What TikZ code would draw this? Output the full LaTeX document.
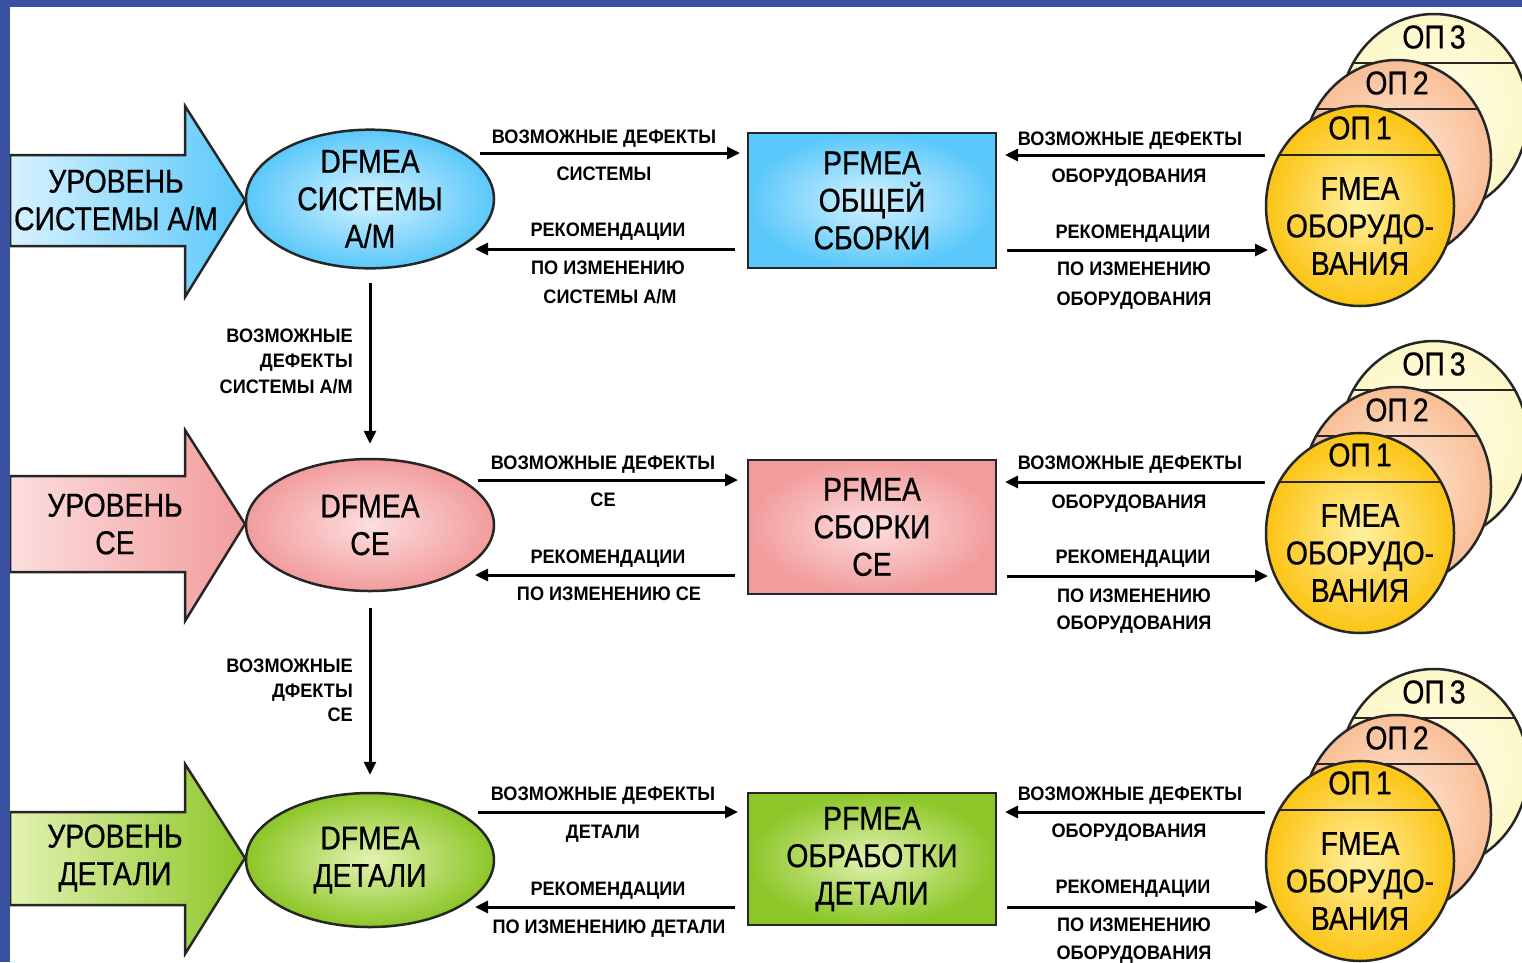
\documentclass[tikz,border=0pt]{standalone}
\usepackage{fontspec}
\setmainfont{Liberation Sans}
\newfontfamily\bigf[FakeStretch=0.86,FakeBold=0.6]{Liberation Sans}
\newfontfamily\lblf[FakeStretch=0.93]{Liberation Sans}
\usetikzlibrary{arrows.meta,shapes.geometric}
\definecolor{navy}{RGB}{58,80,160}
\definecolor{blueS}{RGB}{90,200,250}
\definecolor{blueL}{RGB}{215,242,255}
\definecolor{pinkS}{RGB}{242,156,156}
\definecolor{pinkL}{RGB}{252,222,222}
\definecolor{greenS}{RGB}{140,198,40}
\definecolor{greenL}{RGB}{228,243,178}
\definecolor{goldS}{RGB}{252,196,20}
\definecolor{goldL}{RGB}{255,240,160}
\definecolor{peachS}{RGB}{249,190,150}
\definecolor{peachL}{RGB}{254,234,218}
\definecolor{creamS}{RGB}{253,248,200}
\definecolor{creamL}{RGB}{255,253,235}
\tikzset{
  bigtxt/.style={font=\bigf\fontsize{33}{37.5}\selectfont, align=center},
  lbl/.style={font=\lblf\bfseries\fontsize{19.5}{21}\selectfont, inner sep=0pt, text height=14pt, text depth=0pt},
  flow/.style={line width=3pt, -{Triangle[length=13pt,width=12pt]}},
  outl/.style={draw=black!85, line width=2.5pt},
  lvl/.style={outl, line join=miter},
  dell/.style={ellipse, outl, minimum width=248pt, minimum height=134pt, inner sep=0pt, bigtxt},
  pbox/.style={rectangle, outl, minimum width=248pt, minimum height=134pt, inner sep=0pt, bigtxt},
  opc/.style={ellipse, outl, minimum width=188pt, minimum height=200pt, inner sep=0pt},
  chord/.style={draw=black!85, line width=2.5pt},
}
\newcommand\OPstack[3]{%
  \begin{scope}[shift={(#2,#3)}]
    \node[opc, inner color=creamL, outer color=creamS] (#1c3) at (74,-92) {};
    \draw[chord] (-7,-143) -- (155,-143);
    \node[bigtxt] (#1l3) at (74,-169) {ОП\hspace{5pt}3};
    \node[opc, inner color=peachL, outer color=peachS] (#1c2) at (37,-46) {};
    \draw[chord] (-44,-97) -- (118,-97);
    \node[bigtxt] (#1l2) at (37,-123) {ОП\hspace{5pt}2};
    \node[opc, inner color=goldL, outer color=goldS] (#1c1) at (0,0) {};
    \draw[chord] (-81,-51) -- (81,-51);
    \node[bigtxt] (#1l1) at (0,-78) {ОП\hspace{5pt}1};
    \node[bigtxt] (#1t) at (0,20) {FMEA\\ОБОРУДО-\\ВАНИЯ};
  \end{scope}}
\begin{document}
\begin{tikzpicture}[x=1pt,y=-1pt]
\useasboundingbox (0,0) rectangle (1522,962);
\clip (0,0) rectangle (1522,962);
\fill[white] (0,0) rectangle (1522,962);

% level arrows
\path[lvl, left color=blueL, right color=blueS] (10,155) -- (185,155) -- (185,106) -- (245,200) -- (185,297) -- (185,246) -- (10,246) -- cycle;
\node[bigtxt] (lv1) at (116,200) {УРОВЕНЬ\\СИСТЕМЫ А/М};
\path[lvl, left color=pinkL, right color=pinkS] (10,476) -- (185,476) -- (185,430) -- (245,524) -- (185,621) -- (185,572) -- (10,572) -- cycle;
\node[bigtxt] (lv2) at (115,524) {УРОВЕНЬ\\СЕ};
\path[lvl, left color=greenL, right color=greenS] (10,812) -- (185,812) -- (185,764) -- (245,858) -- (185,954) -- (185,905) -- (10,905) -- cycle;
\node[bigtxt] (lv3) at (115,858) {УРОВЕНЬ\\ДЕТАЛИ};

% DFMEA ellipses
\node[dell, inner color=blueL, outer color=blueS] (e1) at (370,199) {DFMEA\\СИСТЕМЫ\\А/М};
\node[dell, inner color=pinkL, outer color=pinkS, minimum height=132pt] (e2) at (370,525) {DFMEA\\СЕ};
\node[dell, inner color=greenL, outer color=greenS] (e3) at (370,860) {DFMEA\\ДЕТАЛИ};

% PFMEA boxes
\node[pbox, inner color=blueL, outer color=blueS, minimum height=135pt] (r1) at (872,200.5) {PFMEA\\ОБЩЕЙ\\СБОРКИ};
\node[pbox, inner color=pinkL, outer color=pinkS] (r2) at (872,527) {PFMEA\\СБОРКИ\\СЕ};
\node[pbox, inner color=greenL, outer color=greenS, minimum height=132pt] (r3) at (872,859) {PFMEA\\ОБРАБОТКИ\\ДЕТАЛИ};

% equipment FMEA stacks
\OPstack{a}{1360}{206}
\OPstack{b}{1360}{533}
\OPstack{c}{1360}{861}

% vertical arrows
\draw[flow, shorten <=13pt, shorten >=14pt] (e1.south) -- (e2.north);
\draw[flow, shorten <=16pt, shorten >=17pt] (e2.south) -- (e3.north);
\node[lbl, anchor=east] (v1a) at (353,335) {ВОЗМОЖНЫЕ};
\node[lbl, anchor=east] (v1b) at (353,360) {ДЕФЕКТЫ};
\node[lbl, anchor=east] (v1c) at (353,386) {СИСТЕМЫ А/М};
\node[lbl, anchor=east] (v2a) at (353,665) {ВОЗМОЖНЫЕ};
\node[lbl, anchor=east] (v2b) at (353,690) {ДФЕКТЫ};
\node[lbl, anchor=east] (v2c) at (353,714) {СЕ};

% row 1 horizontal arrows
\coordinate (h1a) at (480,153); \coordinate (h1b) at (740,153);
\coordinate (h1c) at (735,249); \coordinate (h1d) at (475,249);
\coordinate (h1e) at (1265,155); \coordinate (h1f) at (1005,155);
\coordinate (h1g) at (1007,250); \coordinate (h1h) at (1268,250);
\draw[flow] (h1a) -- (h1b);
\draw[flow] (h1c) -- (h1d);
\draw[flow] (h1e) -- (h1f);
\draw[flow] (h1g) -- (h1h);
\node[lbl] (t1a) at (604,136) {ВОЗМОЖНЫЕ ДЕФЕКТЫ};
\node[lbl] (t1b) at (604,173) {СИСТЕМЫ};
\node[lbl] (t1c) at (608,229) {РЕКОМЕНДАЦИИ};
\node[lbl] (t1d) at (608,267) {ПО ИЗМЕНЕНИЮ};
\node[lbl] (t1e) at (610,296) {СИСТЕМЫ А/М};
\node[lbl] (t1f) at (1130,138) {ВОЗМОЖНЫЕ ДЕФЕКТЫ};
\node[lbl] (t1g) at (1129,175) {ОБОРУДОВАНИЯ};
\node[lbl] (t1h) at (1133,231) {РЕКОМЕНДАЦИИ};
\node[lbl] (t1i) at (1134,268) {ПО ИЗМЕНЕНИЮ};
\node[lbl] (t1j) at (1134,298) {ОБОРУДОВАНИЯ};

% row 2 horizontal arrows
\coordinate (h2a) at (478,480); \coordinate (h2b) at (738,480);
\coordinate (h2c) at (735,575); \coordinate (h2d) at (475,575);
\coordinate (h2e) at (1265,482); \coordinate (h2f) at (1005,482);
\coordinate (h2g) at (1007,576); \coordinate (h2h) at (1268,576);
\draw[flow] (h2a) -- (h2b);
\draw[flow] (h2c) -- (h2d);
\draw[flow] (h2e) -- (h2f);
\draw[flow] (h2g) -- (h2h);
\node[lbl] (t2a) at (603,462) {ВОЗМОЖНЫЕ ДЕФЕКТЫ};
\node[lbl] (t2b) at (603,499) {СЕ};
\node[lbl] (t2c) at (608,556) {РЕКОМЕНДАЦИИ};
\node[lbl] (t2d) at (609,593) {ПО ИЗМЕНЕНИЮ СЕ};
\node[lbl] (t2f) at (1130,462) {ВОЗМОЖНЫЕ ДЕФЕКТЫ};
\node[lbl] (t2g) at (1129,501) {ОБОРУДОВАНИЯ};
\node[lbl] (t2h) at (1133,556) {РЕКОМЕНДАЦИИ};
\node[lbl] (t2i) at (1134,595) {ПО ИЗМЕНЕНИЮ};
\node[lbl] (t2j) at (1134,622) {ОБОРУДОВАНИЯ};

% row 3 horizontal arrows
\coordinate (h3a) at (478,812); \coordinate (h3b) at (738,812);
\coordinate (h3c) at (735,907); \coordinate (h3d) at (475,907);
\coordinate (h3e) at (1265,812); \coordinate (h3f) at (1005,812);
\coordinate (h3g) at (1007,907); \coordinate (h3h) at (1268,907);
\draw[flow] (h3a) -- (h3b);
\draw[flow] (h3c) -- (h3d);
\draw[flow] (h3e) -- (h3f);
\draw[flow] (h3g) -- (h3h);
\node[lbl] (t3a) at (603,793) {ВОЗМОЖНЫЕ ДЕФЕКТЫ};
\node[lbl] (t3b) at (603,831) {ДЕТАЛИ};
\node[lbl] (t3c) at (608,888) {РЕКОМЕНДАЦИИ};
\node[lbl] (t3d) at (609,926) {ПО ИЗМЕНЕНИЮ ДЕТАЛИ};
\node[lbl] (t3f) at (1130,793) {ВОЗМОЖНЫЕ ДЕФЕКТЫ};
\node[lbl] (t3g) at (1129,830) {ОБОРУДОВАНИЯ};
\node[lbl] (t3h) at (1133,886) {РЕКОМЕНДАЦИИ};
\node[lbl] (t3i) at (1134,924) {ПО ИЗМЕНЕНИЮ};
\node[lbl] (t3j) at (1134,952) {ОБОРУДОВАНИЯ};

% frame
\fill[navy] (0,0) rectangle (1522,7);
\fill[navy] (0,0) rectangle (10,962);
\end{tikzpicture}
\end{document}
